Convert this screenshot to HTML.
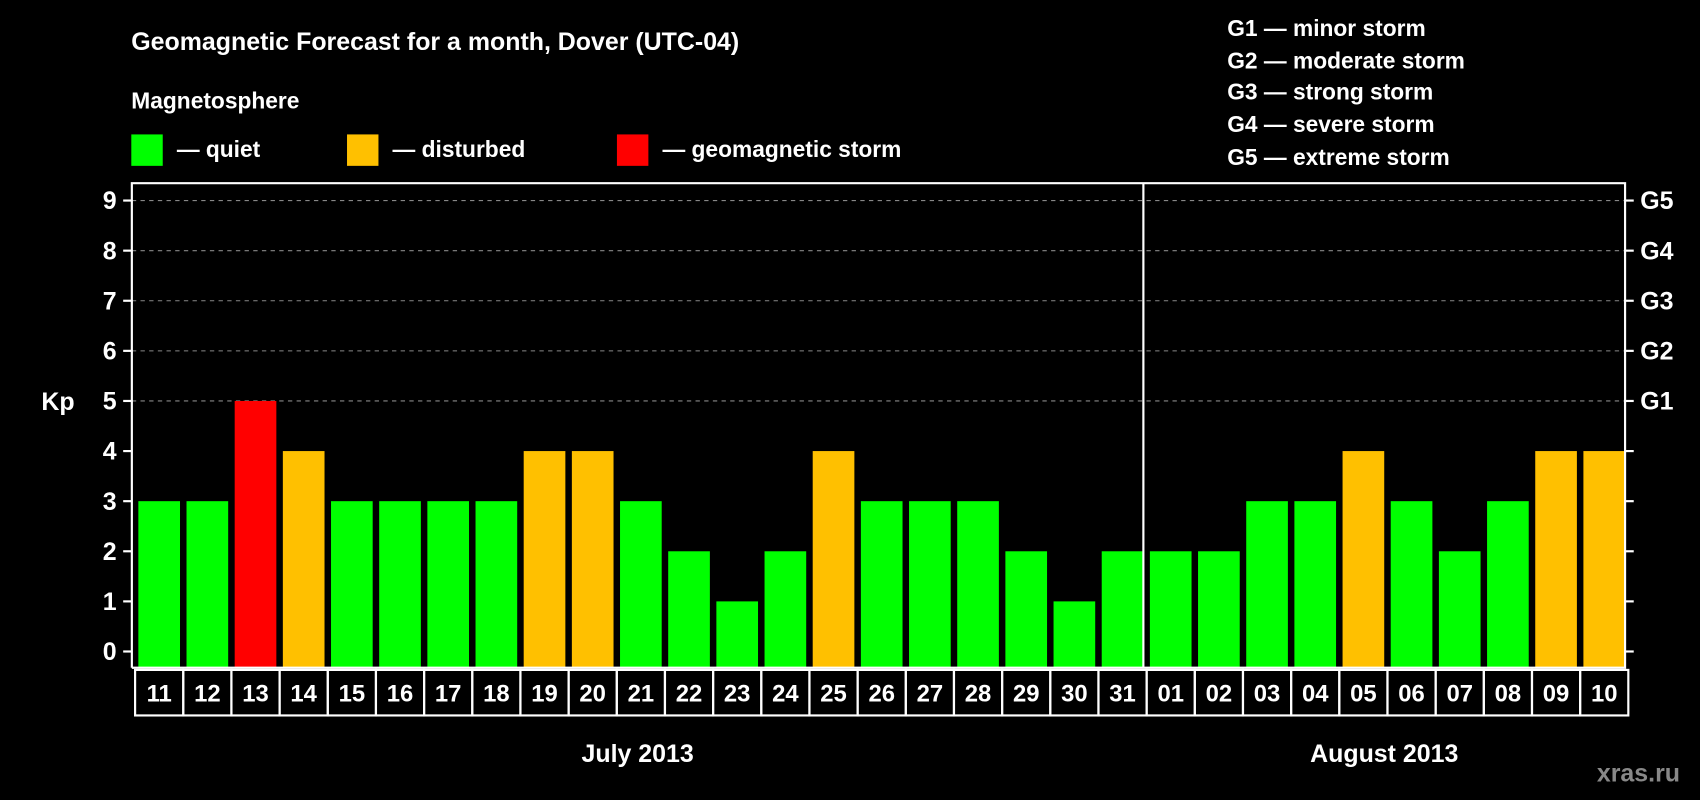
<!DOCTYPE html>
<html><head><meta charset="utf-8"><style>
html,body{margin:0;padding:0;background:#000;}
svg{display:block;font-family:"Liberation Sans",Arial,sans-serif;font-weight:bold;}
</style></head><body>
<svg id="chart" width="1700" height="800" viewBox="0 0 1568 738" xmlns="http://www.w3.org/2000/svg">
<rect width="1568" height="738" fill="#000"/>
<text x="121" y="46" fill="#fff" font-size="23">Geomagnetic Forecast for a month, Dover (UTC-04)</text>
<text x="121" y="100" fill="#fff" font-size="21">Magnetosphere</text>
<g>
<rect x="121" y="124" width="29" height="29" fill="#00ff00"/>
<text x="163" y="145" fill="#fff" font-size="21">— quiet</text>
<rect x="320" y="124" width="29" height="29" fill="#ffc000"/>
<text x="362" y="145" fill="#fff" font-size="21">— disturbed</text>
<rect x="569" y="124" width="29" height="29" fill="#ff0000"/>
<text x="611" y="145" fill="#fff" font-size="21">— geomagnetic storm</text>
</g>
<g font-size="21" fill="#fff">
<text x="1132" y="33">G1 — minor storm</text>
<text x="1132" y="63">G2 — moderate storm</text>
<text x="1132" y="92">G3 — strong storm</text>
<text x="1132" y="122">G4 — severe storm</text>
<text x="1132" y="152">G5 — extreme storm</text>
</g>
<text x="38" y="378" fill="#fff" font-size="23">Kp</text>
<text x="1473" y="721" fill="#888" font-size="23">xras.ru</text>
<g id="plot"></g>
</svg>
<script>
const days = ["11","12","13","14","15","16","17","18","19","20","21","22","23","24","25","26","27","28","29","30","31","01","02","03","04","05","06","07","08","09","10"];
const kpValues = [3,3,5,4,3,3,3,3,4,4,3,2,1,2,4,3,3,3,2,1,2,2,2,3,3,4,3,2,3,4,4];
const yTicks = [0,1,2,3,4,5,6,7,8,9];
const gLabels = ["","","","","","G1","G2","G3","G4","G5"];
const months = ["July 2013","August 2013"];
const monthStart = [0,21];

const NS="http://www.w3.org/2000/svg";
const g=document.getElementById('plot');
const L=121.5,R=1499,T=169,B=616,Y0=601,unit=(601-185)/9;
const dw=(R-L)/days.length;
const x=i=>L+i*dw;
const y=v=>Y0-v*unit;
function mk(t,a){const e=document.createElementNS(NS,t);for(const k in a)e.setAttribute(k,a[k]);g.appendChild(e);return e;}
function color(v){return v>=5?"#ff0000":(v>=4?"#ffc000":"#00ff00");}

yTicks.forEach((v,i)=>{
  if(v>=5){const l=mk('line',{x1:L,x2:R,y1:y(v),y2:y(v),stroke:'#888','stroke-dasharray':'4,4','stroke-width':1});
  
  }
  const t1=mk('line',{x1:L-8,x2:L,y1:y(v),y2:y(v),stroke:'#fff','stroke-width':2});
  
  
  const t2=mk('line',{x1:R,x2:R+8,y1:y(v),y2:y(v),stroke:'#fff','stroke-width':2});
  
  
  const tl=mk('text',{x:L-14,y:y(v)+8,fill:'#fff','font-size':23,'text-anchor':'end'});
  tl.textContent=v;
  
  
  if(gLabels[i]){const gl=mk('text',{x:R+14,y:y(v)+8,fill:'#fff','font-size':23});
  gl.textContent=gLabels[i];
  
  }
});

kpValues.forEach((v,i)=>{
  const b=mk('rect',{x:x(i)+6,y:y(v),width:dw-6,height:B-y(v),fill:color(v)});
  
  
  const c=mk('rect',{x:x(i)+3,y:618,width:dw,height:42,fill:'none',stroke:'#fff','stroke-width':2});
  
  
  const t=mk('text',{x:x(i)+3+dw/2,y:647,fill:'#fff','font-size':22,'text-anchor':'middle'});
  t.textContent=days[i];
  
  
});

const fr=mk('path',{d:`M${L},${B} V${T} H${R} V${B} H${L}`,fill:'none',stroke:'#fff','stroke-width':2});


const dv=mk('line',{x1:x(monthStart[1]),x2:x(monthStart[1]),y1:T,y2:B,stroke:'#fff','stroke-width':2});



months.forEach((m,k)=>{
  const s=monthStart[k],e=k+1<monthStart.length?monthStart[k+1]:days.length;
  const t=mk('text',{x:(x(s)+x(e))/2,y:703,fill:'#fff','font-size':23,'text-anchor':'middle'});
  t.textContent=m;
  
  
});
</script>
</body></html>
